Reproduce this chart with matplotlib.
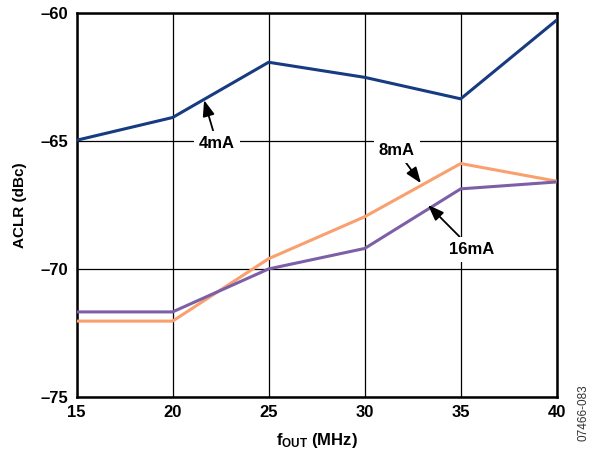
import matplotlib.pyplot as plt

plt.rcParams['font.family'] = 'Liberation Sans'
plt.rcParams['font.weight'] = 'bold'
plt.rcParams['mathtext.fontset'] = 'custom'
plt.rcParams['mathtext.rm'] = 'Liberation Sans:bold'
plt.rcParams['mathtext.bf'] = 'Liberation Sans:bold'

freq = [15, 20, 25, 30, 35, 40]
aclr_4ma = [-64.97, -64.08, -61.92, -62.51, -63.35, -60.27]
aclr_8ma = [-72.04, -72.04, -69.6, -67.96, -65.88, -66.57]
aclr_16ma = [-71.68, -71.68, -70.0, -69.2, -66.87, -66.6]

fig = plt.figure(figsize=(5.98, 4.53), dpi=100)
ax = fig.add_axes([0.128, 0.124, 0.803, 0.847])

ax.plot(freq, aclr_4ma, color='#163b80', lw=2.2, zorder=3)
ax.plot(freq, aclr_8ma, color='#f9a06e', lw=2.2, zorder=3)
ax.plot(freq, aclr_16ma, color='#7d5fa8', lw=2.2, zorder=3)

ax.set_xlim(15, 40)
ax.set_ylim(-75, -60)
ax.set_xticks(freq)
ax.set_yticks([-75, -70, -65, -60])
ax.set_yticklabels(['\u201375', '\u201370', '\u201365', '\u201360'])
ax.grid(True, color='black', lw=0.9, zorder=1)
ax.tick_params(length=0, labelsize=12, pad=6)
for s in ax.spines.values():
    s.set_linewidth(1.8)

ax.set_ylabel('ACLR (dBc)', fontsize=11, fontweight='bold', labelpad=10)
ax.set_xlabel(r'$\mathregular{f_{OUT}}$ (MHz)', fontsize=12, fontweight='bold', labelpad=8)

box = dict(boxstyle='square,pad=0.3', fc='white', ec='none')
arrow = dict(arrowstyle='-|>,head_length=0.8,head_width=0.3', color='black', lw=1.3, shrinkA=0, shrinkB=0)
ax.annotate('4mA', xy=(21.64, -63.4), xytext=(22.3, -65.08), fontsize=12, fontweight='bold',
            ha='center', va='center', bbox=box, arrowprops=arrow, zorder=5)
ax.annotate('8mA', xy=(32.93, -66.65), xytext=(31.68, -65.36), fontsize=12, fontweight='bold',
            ha='center', va='center', bbox=box, arrowprops=arrow, zorder=5)
ax.annotate('16mA', xy=(33.3, -67.5), xytext=(35.59, -69.23), fontsize=12, fontweight='bold',
            ha='center', va='center', bbox=box, arrowprops=arrow, zorder=5)

fig.text(0.975, 0.09, '07466-083', rotation=90, fontsize=8.5, fontweight='normal',
         ha='center', va='center', color='#333333')

fig.savefig('out.png', dpi=100)
